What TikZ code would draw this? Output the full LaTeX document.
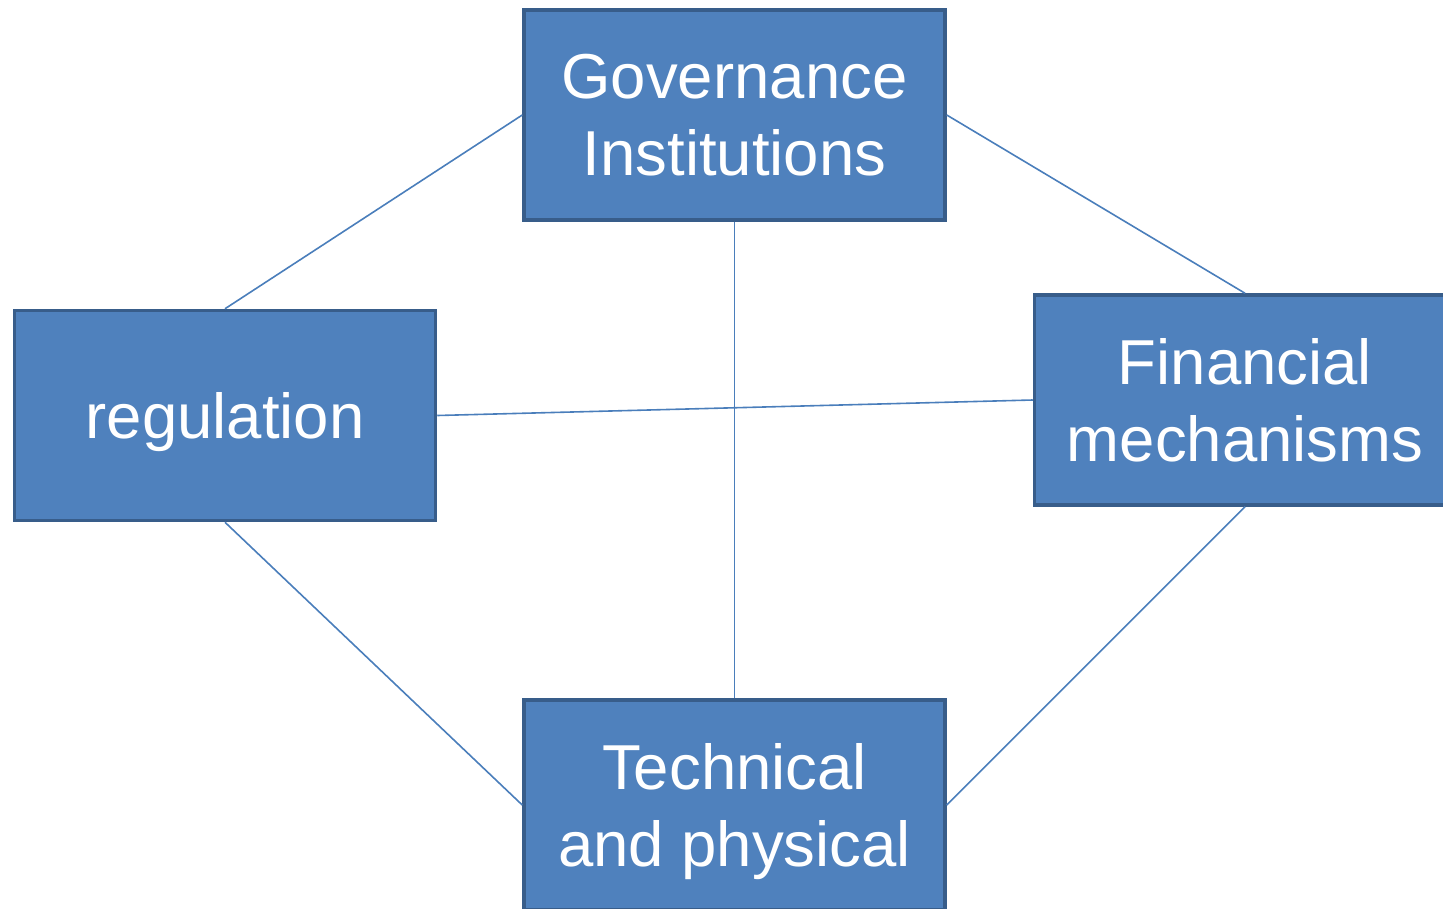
\documentclass[tikz,border=0pt]{standalone}
\usepackage{fontspec}
\setmainfont{Liberation Sans}
\definecolor{boxfill}{HTML}{4F81BD}
\definecolor{boxedge}{HTML}{385D8A}
\definecolor{linkcol}{HTML}{4A7EBB}
\begin{document}
\begin{tikzpicture}[x=1pt,y=-1pt,
  blockbox/.style={draw=boxedge, line width=3.5pt, fill=boxfill, text=white,
    minimum width=421pt, minimum height=210pt, inner sep=0pt, align=center,
    text depth=0pt, font=\fontsize{63.5}{77.5}\selectfont},
  linkline/.style={draw=linkcol, line width=1.6pt}]
\clip (0,0) rectangle (1443,908);
\useasboundingbox (0,0) rectangle (1443,908);
\node[blockbox] (gov) at (734.5,115) {Governance\\Institutions};
\node[blockbox] (reg) at (225,415.5) {regulation};
\node[blockbox] (fin) at (1245,400) {Financial\\mechanisms};
\node[blockbox] (tech) at (734.5,805) {Technical\\and physical};
\draw[linkline] (reg.north) -- (gov.west);
\draw[linkline] (gov.east) -- (fin.north);
\draw[linkline] (gov.south) -- (tech.north);
\draw[linkline] (reg.east) -- (fin.west);
\draw[linkline] (reg.south) -- (tech.west);
\draw[linkline] (fin.south) -- (tech.east);
\end{tikzpicture}
\end{document}
